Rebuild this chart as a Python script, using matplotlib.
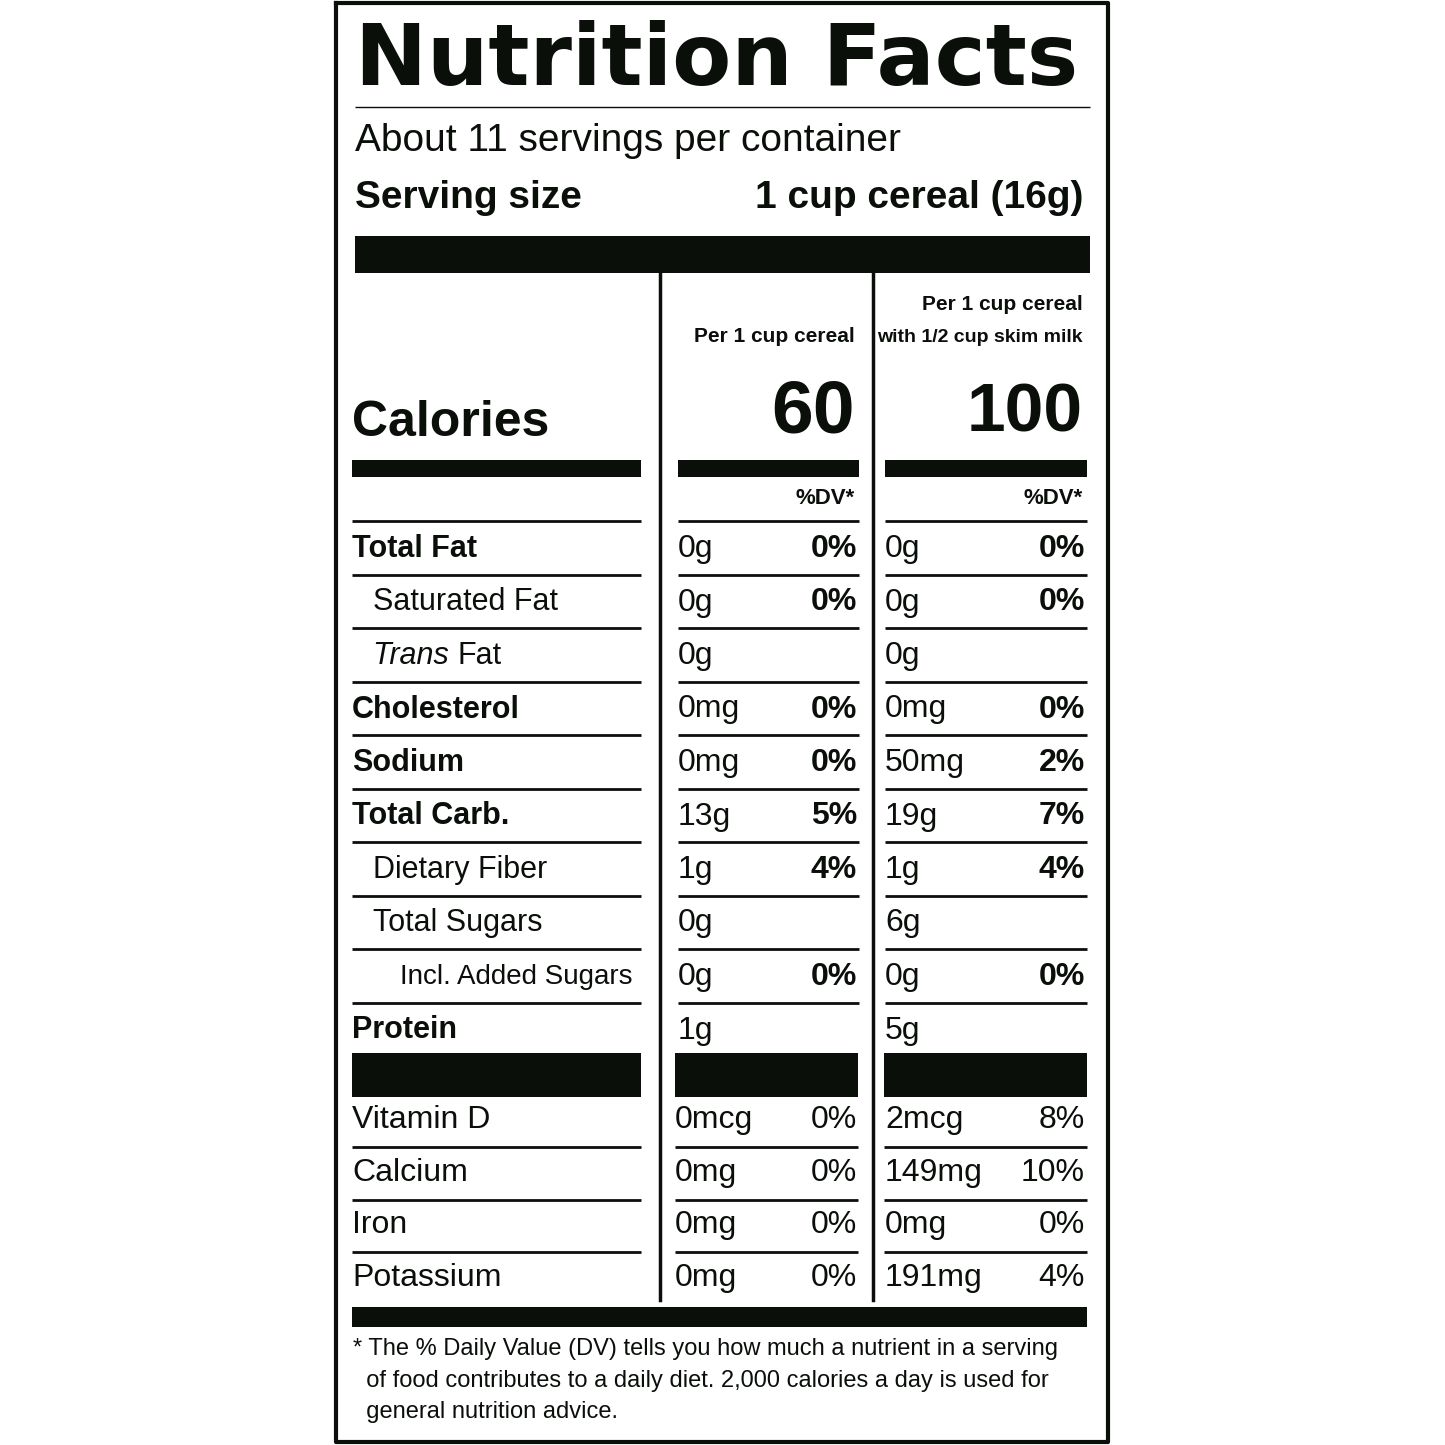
import matplotlib.pyplot as plt

FAM = ['Liberation Sans', 'DejaVu Sans']

names = ['Total Fat', 'Saturated Fat', 'Trans Fat', 'Cholesterol', 'Sodium',
         'Total Carb.', 'Dietary Fiber', 'Total Sugars', 'Incl. Added Sugars', 'Protein']
bold = [True, False, False, True, True, True, False, False, False, True]
indent = [0, 1, 1, 0, 0, 0, 1, 1, 2, 0]
cereal_amt = ['0g', '0g', '0g', '0mg', '0mg', '13g', '1g', '0g', '0g', '1g']
cereal_dv = ['0%', '0%', '', '0%', '0%', '5%', '4%', '', '0%', '']
milk_amt = ['0g', '0g', '0g', '0mg', '50mg', '19g', '1g', '6g', '0g', '5g']
milk_dv = ['0%', '0%', '', '0%', '2%', '7%', '4%', '', '0%', '']

vit_names = ['Vitamin D', 'Calcium', 'Iron', 'Potassium']
vit_cereal_amt = ['0mcg', '0mg', '0mg', '0mg']
vit_cereal_dv = ['0%', '0%', '0%', '0%']
vit_milk_amt = ['2mcg', '149mg', '0mg', '191mg']
vit_milk_dv = ['8%', '10%', '0%', '4%']

footnote = ['* The % Daily Value (DV) tells you how much a nutrient in a serving',
            '  of food contributes to a daily diet. 2,000 calories a day is used for',
            '  general nutrition advice.']

fig = plt.figure(figsize=(14.45, 14.45), dpi=100)
ax = fig.add_axes([0, 0, 1, 1])
ax.set_xlim(0, 1445)
ax.set_ylim(1445, 0)
ax.axis('off')
K = '#0a0f0a'


def t(x, y, s, size, ha='left', weight='normal', style='normal'):
    return ax.text(x, y, s, fontsize=size, ha=ha, va='center', color=K,
                   family=FAM, weight=weight, style=style)


def bar(x0, x1, y0, y1):
    ax.fill_between([x0, x1], y0, y1, color=K, lw=0)


def hl(x0, x1, y, lw=2):
    ax.plot([x0, x1], [y, y], color=K, lw=lw, solid_capstyle='butt')


ax.plot([336, 1108, 1108, 336, 336], [3, 3, 1442, 1442, 3], color=K, lw=3)
ax.text(355, 62, 'Nutrition Facts', fontsize=62, weight='heavy', family=['DejaVu Sans'],
        va='center', color=K)
hl(355, 1090, 107, 1)
t(355, 141, 'About 11 servings per container', 28)
t(355, 198, 'Serving size', 28, weight='bold')
t(1083, 198, '1 cup cereal (16g)', 28, ha='right', weight='bold')
bar(355, 1090, 236, 273)
for x in (660, 873):
    ax.plot([x, x], [273, 1300], color=K, lw=2.5)
t(855, 337, 'Per 1 cup cereal', 15, ha='right', weight='bold')
t(1083, 304, 'Per 1 cup cereal', 15, ha='right', weight='bold')
t(1083, 337, 'with 1/2 cup skim milk', 14, ha='right', weight='bold')
t(352, 423, 'Calories', 36, weight='bold')
t(855, 413, '60', 54, ha='right', weight='bold')
t(1083, 413, '100', 50, ha='right', weight='bold')
segs = [(352, 641), (678, 859), (885, 1087)]
for a, b in segs:
    bar(a, b, 460, 477)
t(855, 499, '%DV*', 16, ha='right', weight='bold')
t(1083, 499, '%DV*', 16, ha='right', weight='bold')

renderer = fig.canvas.get_renderer()
top = 521
step = 53.5
for a, b in segs:
    hl(a, b, top)
for i, n in enumerate(names):
    yc = top + step * i + 28
    w = 'bold' if bold[i] else 'normal'
    x = 352 + [0, 21, 48][indent[i]]
    fs = 20 if indent[i] == 2 else 22
    if n == 'Trans Fat':
        tr = t(x, yc, 'Trans ', fs, style='italic')
        bb = tr.get_window_extent(renderer)
        t(x + bb.width, yc, 'Fat', fs)
    else:
        t(x, yc, n, fs, weight=w)
    t(678, yc, cereal_amt[i], 23)
    t(857, yc, cereal_dv[i], 23, ha='right', weight='bold')
    t(885, yc, milk_amt[i], 23)
    t(1085, yc, milk_dv[i], 23, ha='right', weight='bold')
    if i < len(names) - 1:
        for a, b in segs:
            hl(a, b, top + step * (i + 1))

for a, b in [(352, 641), (675, 858), (884, 1087)]:
    bar(a, b, 1053, 1097)
for i, n in enumerate(vit_names):
    yc = 1120 + 52.7 * i
    t(352, yc, n, 23)
    t(675, yc, vit_cereal_amt[i], 23)
    t(857, yc, vit_cereal_dv[i], 23, ha='right')
    t(885, yc, vit_milk_amt[i], 23)
    t(1085, yc, vit_milk_dv[i], 23, ha='right')
    if i < len(vit_names) - 1:
        for a, b in [(352, 641), (675, 858), (884, 1087)]:
            hl(a, b, yc + 27)
bar(352, 1087, 1307, 1327)
for i, line in enumerate(footnote):
    t(353, 1349 + 31.5 * i, line, 17)

fig.savefig('out.png', dpi=100, facecolor='white')
